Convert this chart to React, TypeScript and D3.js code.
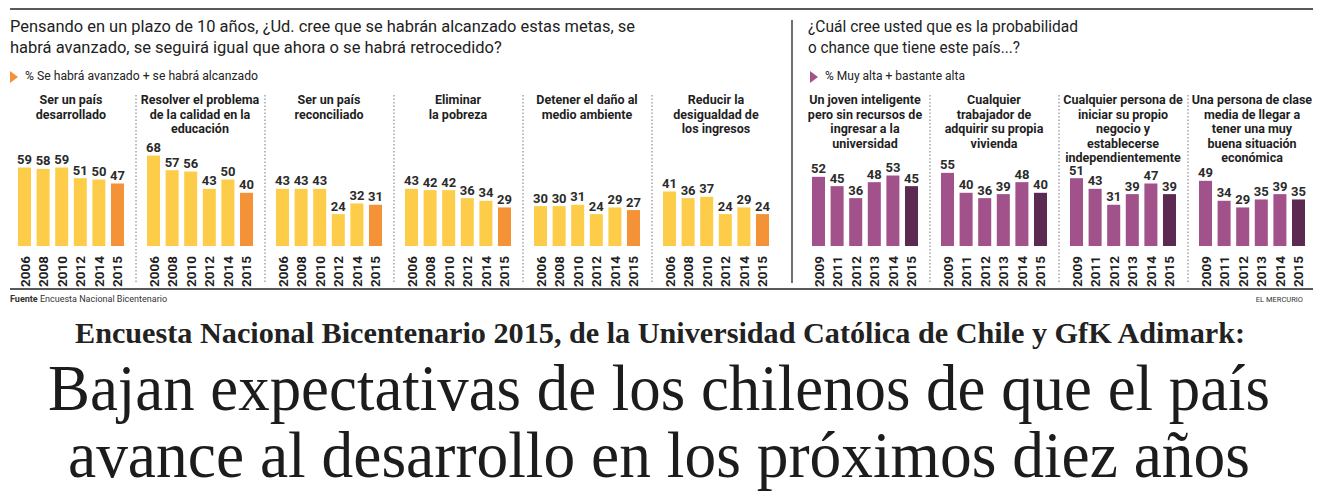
import { scaleBand, scaleLinear } from 'd3';

const leftYears = ['2006', '2008', '2010', '2012', '2014', '2015'];
const rightYears = ['2009', '2011', '2012', '2013', '2014', '2015'];

const leftTitles = [
  ['Ser un país', 'desarrollado'],
  ['Resolver el problema', 'de la calidad en la', 'educación'],
  ['Ser un país', 'reconciliado'],
  ['Eliminar', 'la pobreza'],
  ['Detener el daño al', 'medio ambiente'],
  ['Reducir la', 'desigualdad de', 'los ingresos'],
];
const leftValues = [
  [59, 58, 59, 51, 50, 47],
  [68, 57, 56, 43, 50, 40],
  [43, 43, 43, 24, 32, 31],
  [43, 42, 42, 36, 34, 29],
  [30, 30, 31, 24, 29, 27],
  [41, 36, 37, 24, 29, 24],
];

const rightTitles = [
  ['Un joven inteligente', 'pero sin recursos de', 'ingresar a la', 'universidad'],
  ['Cualquier', 'trabajador de', 'adquirir su propia', 'vivienda'],
  ['Cualquier persona de', 'iniciar su propio', 'negocio y', 'establecerse', 'independientemente'],
  ['Una persona de clase', 'media de llegar a', 'tener una muy', 'buena situación', 'económica'],
];
const rightValues = [
  [52, 45, 36, 48, 53, 45],
  [55, 40, 36, 39, 48, 40],
  [51, 43, 31, 39, 47, 39],
  [49, 34, 29, 35, 39, 35],
];

const width = 1325;
const height = 499;
const panelStep = 129;
const groupWidth = 106;
const baseline = 246;
const sans = 'Roboto, "Open Sans", sans-serif';
const serif = '"Liberation Serif", "DejaVu Serif", serif';

const yScale = scaleLinear().domain([0, 100]).range([baseline, 113]);

type PanelProps = {
  x0: number;
  title: string[];
  values: number[];
  years: string[];
  color: string;
  lastColor: string;
};

function Panel({ x0, title, values, years, color, lastColor }: PanelProps) {
  const xScale = scaleBand<string>()
    .domain(years)
    .range([x0, x0 + groupWidth])
    .paddingInner(0.3)
    .paddingOuter(0);
  const bw = xScale.bandwidth();
  const cx = x0 + groupWidth / 2;

  return (
    <g>
      {title.map((line, i) => (
        <text key={i} x={cx} y={104 + i * 14.5} textAnchor="middle" fontFamily={sans} fontWeight={700} fontSize={12.5} fill="#1f1f1f">
          {line}
        </text>
      ))}
      {values.map((v, i) => {
        const x = xScale(years[i]) ?? x0;
        return (
          <g key={years[i]}>
            <rect x={x} y={yScale(v)} width={bw} height={baseline - yScale(v)} fill={i === values.length - 1 ? lastColor : color} />
            <text x={x + bw / 2} y={yScale(v) - 3.5} textAnchor="middle" fontFamily={sans} fontWeight={700} fontSize={13} fill="#2b2b2b">
              {v}
            </text>
            <text
              transform={`translate(${x + bw / 2},256) rotate(-90)`}
              textAnchor="end"
              dominantBaseline="central"
              fontFamily={sans}
              fontWeight={700}
              fontSize={13.5}
              fill="#1f1f1f"
            >
              {years[i]}
            </text>
          </g>
        );
      })}
    </g>
  );
}

export default function App() {
  return (
    <svg
      width={width}
      height={height}
      viewBox={`0 0 ${width} ${height}`}
      style={{ position: 'absolute', left: 0, top: 0, background: '#fff', display: 'block' }}
    >
      <rect width={width} height={height} fill="#fff" />
      <line x1={10} x2={1313} y1={9} y2={9} stroke="#222" strokeWidth={1.5} />

      {/* left block header */}
      <text x={10} y={32} fontFamily={sans} fontSize={16.5} fill="#222" textLength={625} lengthAdjust="spacingAndGlyphs">
        Pensando en un plazo de 10 años, ¿Ud. cree que se habrán alcanzado estas metas, se
      </text>
      <text x={10} y={53} fontFamily={sans} fontSize={16.5} fill="#222">
        habrá avanzado, se seguirá igual que ahora o se habrá retrocedido?
      </text>
      <path d="M10,71 L18,77 L10,83 Z" fill="#f39237" />
      <text x={25} y={80} fontFamily={sans} fontSize={12} fill="#222" textLength={233} lengthAdjust="spacingAndGlyphs">
        % Se habrá avanzado + se habrá alcanzado
      </text>

      {/* right block header */}
      <text x={808} y={32} fontFamily={sans} fontSize={16.5} fill="#222" textLength={270} lengthAdjust="spacingAndGlyphs">
        ¿Cuál cree usted que es la probabilidad
      </text>
      <text x={808} y={53} fontFamily={sans} fontSize={16.5} fill="#222" textLength={212} lengthAdjust="spacingAndGlyphs">
        o chance que tiene este país...?
      </text>
      <path d="M810,71 L818,77 L810,83 Z" fill="#a1528a" />
      <text x={825} y={80} fontFamily={sans} fontSize={12} fill="#222" textLength={140} lengthAdjust="spacingAndGlyphs">
        % Muy alta + bastante alta
      </text>

      <line x1={792} x2={792} y1={20} y2={283} stroke="#222" strokeWidth={1.3} />

      {leftValues.map((vals, i) => (
        <g key={`l${i}`}>
          {i > 0 && (
            <line x1={18 + i * panelStep - 11} x2={18 + i * panelStep - 11} y1={95} y2={283} stroke="#777" strokeWidth={1} strokeDasharray="1.5 2" />
          )}
          <Panel x0={18 + i * panelStep} title={leftTitles[i]} values={vals} years={leftYears} color="#fdcd4a" lastColor="#f39237" />
        </g>
      ))}

      {rightValues.map((vals, i) => (
        <g key={`r${i}`}>
          {i > 0 && (
            <line x1={812 + i * panelStep - 11} x2={812 + i * panelStep - 11} y1={95} y2={283} stroke="#777" strokeWidth={1} strokeDasharray="1.5 2" />
          )}
          <Panel x0={812 + i * panelStep} title={rightTitles[i]} values={vals} years={rightYears} color="#a1528a" lastColor="#5c2a50" />
        </g>
      ))}

      <line x1={10} x2={1313} y1={289} y2={289} stroke="#222" strokeWidth={1.5} />
      <text x={10} y={302} fontFamily={sans} fontSize={9} fill="#333">
        <tspan fontWeight={700}>Fuente</tspan> Encuesta Nacional Bicentenario
      </text>
      <text x={1303} y={302} textAnchor="end" fontFamily={sans} fontSize={7.5} fill="#333">
        EL MERCURIO
      </text>

      <text x={75} y={343} fontFamily={serif} fontWeight={700} fontSize={30} fill="#222" textLength={1170} lengthAdjust="spacingAndGlyphs">
        Encuesta Nacional Bicentenario 2015, de la Universidad Católica de Chile y GfK Adimark:
      </text>
      <text x={48} y={410} fontFamily={serif} fontSize={65} fill="#1c1c1c" textLength={1222} lengthAdjust="spacingAndGlyphs">
        Bajan expectativas de los chilenos de que el país
      </text>
      <text x={68} y={477} fontFamily={serif} fontSize={65} fill="#1c1c1c" textLength={1182} lengthAdjust="spacingAndGlyphs">
        avance al desarrollo en los próximos diez años
      </text>
    </svg>
  );
}
